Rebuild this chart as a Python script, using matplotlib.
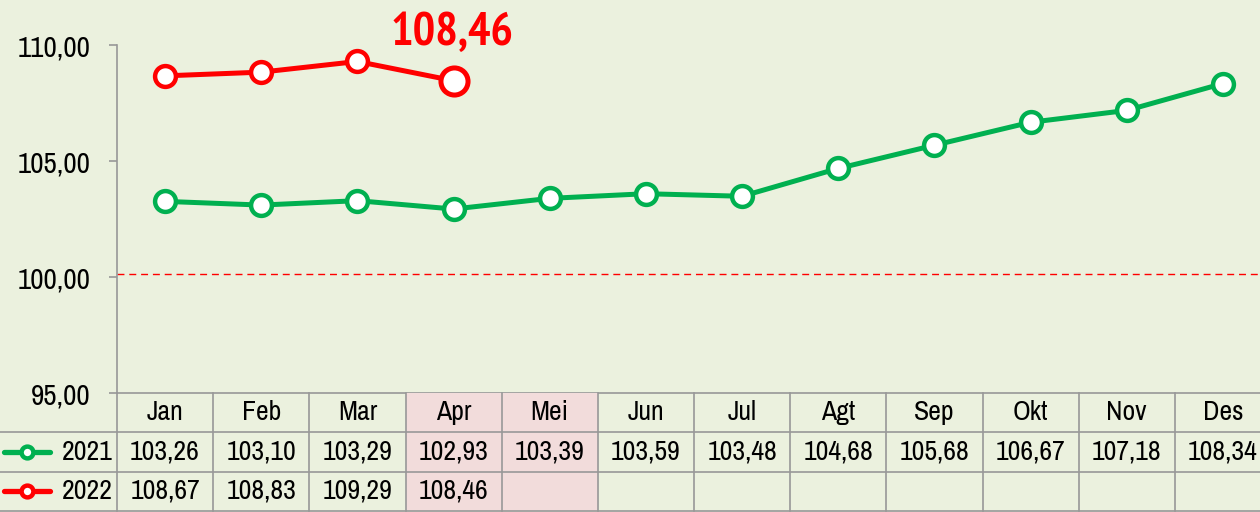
import matplotlib
matplotlib.use("Agg")
import matplotlib.pyplot as plt
from matplotlib.patches import Rectangle

months = ["Jan", "Feb", "Mar", "Apr", "Mei", "Jun", "Jul", "Agt", "Sep", "Okt", "Nov", "Des"]
series_names = ["2021", "2022"]
values_2021 = [103.26, 103.10, 103.29, 102.93, 103.39, 103.59, 103.48, 104.68, 105.68, 106.67, 107.18, 108.34]
values_2022 = [108.67, 108.83, 109.29, 108.46]
highlight_months = ["Apr", "Mei"]
y_ticks = [95, 100, 105, 110]
reference_level = 100.12

BG = "#EBF1DE"
PINK = "#F2DCDB"
GREEN = "#00B050"
RED = "#FF0000"
GRID = "#989898"
FONT = ["Archivo Narrow", "PT Sans Narrow", "DejaVu Sans"]
FONT_BOLD = ["PT Sans Narrow", "DejaVu Sans"]

plt.rcParams["font.family"] = FONT


def fmt(v):
    return f"{v:.2f}".replace(".", ",")


W, H = 1260, 512
fig = plt.figure(figsize=(W / 100, H / 100), dpi=100, facecolor=BG)

x_left, x_right = 117, 1271
col_w = (x_right - x_left) / len(months)
y_axis_bottom, y_axis_top = 393, 45

ax = fig.add_axes([x_left / W, (H - y_axis_bottom) / H,
                   (x_right - x_left) / W, (y_axis_bottom - y_axis_top) / H])
ax.set_facecolor(BG)
ax.patch.set_alpha(0)
ax.set_xlim(-0.5, len(months) - 0.5)
ax.set_ylim(y_ticks[0], y_ticks[-1])
for s in ("top", "right"):
    ax.spines[s].set_visible(False)
for s in ("left", "bottom"):
    ax.spines[s].set_color(GRID)
    ax.spines[s].set_linewidth(1.2)
ax.set_xticks([])
ax.set_yticks(y_ticks)
ax.set_yticklabels([fmt(v) for v in y_ticks])
ax.tick_params(axis="y", length=6, width=1.2, color=GRID, labelsize=21, pad=13)

ax.axhline(reference_level, color=RED, lw=1.0, ls=(0, (5, 3.5)), zorder=1)

xs21 = list(range(len(values_2021)))
xs22 = list(range(len(values_2022)))
ax.plot(xs21, values_2021, color=GREEN, lw=3.6, marker="o", ms=15, mew=3.2,
        mfc="white", mec=GREEN, zorder=3, clip_on=False)
ax.plot(xs22, values_2022, color=RED, lw=3.6, marker="o", ms=15, mew=3.2,
        mfc="white", mec=RED, zorder=4, clip_on=False)
# latest value emphasised
ax.plot([xs22[-1]], [values_2022[-1]], marker="o", ms=19.5, mew=3.6,
        mfc="white", mec=RED, zorder=5, clip_on=False, ls="none")
ax.annotate(fmt(values_2022[-1]), (xs22[-1], values_2022[-1]),
            xytext=(-1, 1.0), textcoords=("offset points", "axes fraction"),
            ha="center", va="baseline", color=RED, fontsize=34, fontweight="bold",
            family=FONT_BOLD, annotation_clip=False)

# data table beneath the plot
tb_top, tb_bottom = 393, 511
label_w = x_left / col_w
tax = fig.add_axes([0, (H - tb_bottom) / H, x_right / W, (tb_bottom - tb_top) / H])
tax.set_xlim(-0.5 - label_w, len(months) - 0.5)
tax.set_ylim(0, 3)
tax.axis("off")
tax.patch.set_alpha(0)

for m in highlight_months:
    i = months.index(m)
    tax.add_patch(Rectangle((i - 0.5, 0), 1, 3, facecolor=PINK, edgecolor="none", zorder=0))

for k in range(len(months) + 1):
    tax.plot([k - 0.5, k - 0.5], [0, 3], color=GRID, lw=1.2, zorder=2, clip_on=False)
for yy in (0, 1, 2):
    tax.plot([-0.5 - label_w, len(months) - 0.5], [yy, yy], color=GRID, lw=1.2,
             zorder=2, clip_on=False)

TS = 20
for i, m in enumerate(months):
    tax.text(i, 2.5, m, ha="center", va="center", fontsize=TS)
for i, v in enumerate(values_2021):
    tax.text(i, 1.5, fmt(v), ha="center", va="center", fontsize=TS)
for i, v in enumerate(values_2022):
    tax.text(i, 0.5, fmt(v), ha="center", va="center", fontsize=TS)

# legend keys in the row-label cells
x0 = -0.5 - label_w
for row_y, name, col in ((1.5, series_names[0], GREEN), (0.5, series_names[1], RED)):
    tax.plot([x0 + 4 / col_w, x0 + 50 / col_w], [row_y, row_y], color=col, lw=3.8,
             solid_capstyle="round", clip_on=False, zorder=3)
    tax.plot([x0 + 27 / col_w], [row_y], marker="o", ms=8.5, mew=3.2, mfc="white",
             mec=col, clip_on=False, zorder=4)
    tax.text(x0 + 113 / col_w, row_y, name, ha="right", va="center", fontsize=TS)

fig.savefig("out.png", dpi=100, facecolor=BG)
